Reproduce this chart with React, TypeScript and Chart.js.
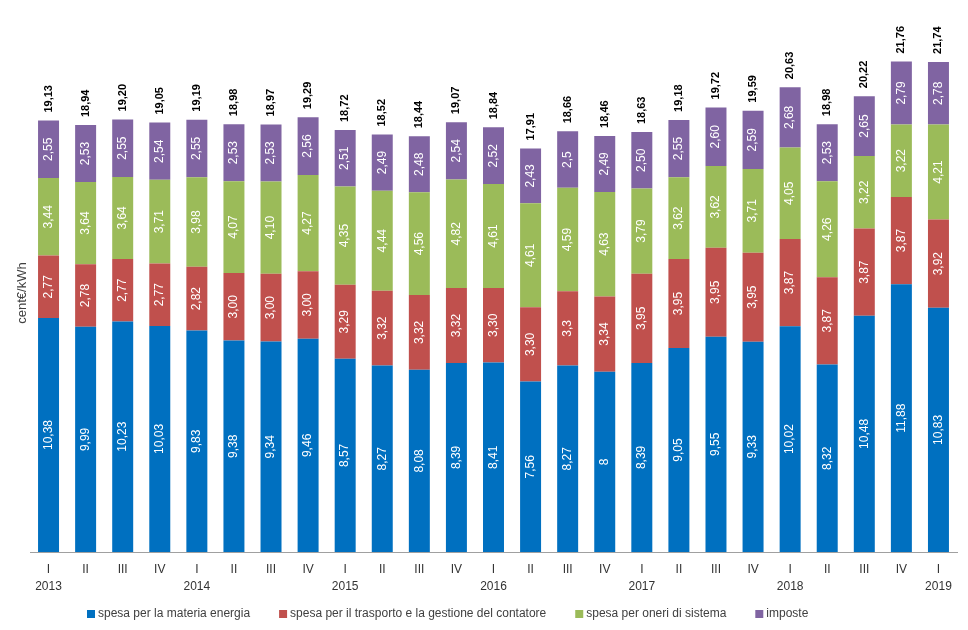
import React, { useEffect, useRef } from "react";
import { Chart, registerables } from "chart.js";

Chart.register(...registerables);

// quarters and years as printed under the x axis
const quarters = [
  "I", "II", "III", "IV", "I", "II", "III", "IV", "I", "II", "III", "IV", "I",
  "II", "III", "IV", "I", "II", "III", "IV", "I", "II", "III", "IV", "I",
];
const years = [
  "2013", "", "", "", "2014", "", "", "", "2015", "", "", "", "2016",
  "", "", "", "2017", "", "", "", "2018", "", "", "", "2019",
];

// values as written in the segments (Italian decimal comma)
const materiaEnergia = [
  "10,38", "9,99", "10,23", "10,03", "9,83", "9,38", "9,34", "9,46", "8,57",
  "8,27", "8,08", "8,39", "8,41", "7,56", "8,27", "8", "8,39", "9,05", "9,55",
  "9,33", "10,02", "8,32", "10,48", "11,88", "10,83",
];
const trasporto = [
  "2,77", "2,78", "2,77", "2,77", "2,82", "3,00", "3,00", "3,00", "3,29",
  "3,32", "3,32", "3,32", "3,30", "3,30", "3,3", "3,34", "3,95", "3,95",
  "3,95", "3,95", "3,87", "3,87", "3,87", "3,87", "3,92",
];
const oneri = [
  "3,44", "3,64", "3,64", "3,71", "3,98", "4,07", "4,10", "4,27", "4,35",
  "4,44", "4,56", "4,82", "4,61", "4,61", "4,59", "4,63", "3,79", "3,62",
  "3,62", "3,71", "4,05", "4,26", "3,22", "3,22", "4,21",
];
const imposte = [
  "2,55", "2,53", "2,55", "2,54", "2,55", "2,53", "2,53", "2,56", "2,51",
  "2,49", "2,48", "2,54", "2,52", "2,43", "2,5", "2,49", "2,50", "2,55",
  "2,60", "2,59", "2,68", "2,53", "2,65", "2,79", "2,78",
];
const totali = [
  "19,13", "18,94", "19,20", "19,05", "19,19", "18,98", "18,97", "19,29",
  "18,72", "18,52", "18,44", "19,07", "18,84", "17,91", "18,66", "18,46",
  "18,63", "19,18", "19,72", "19,59", "20,63", "18,98", "20,22", "21,76",
  "21,74",
];

const seriesNames = [
  "spesa per la materia energia",
  "spesa per il trasporto e la gestione del contatore",
  "spesa per oneri di sistema",
  "imposte",
];
const seriesColors = ["#0070C0", "#C0504D", "#9BBB59", "#8064A2"];
const seriesText = [materiaEnergia, trasporto, oneri, imposte];

const toNum = (s: string) => parseFloat(s.replace(",", "."));

const FONT = "'Liberation Sans', Arial, sans-serif";

const labelsPlugin = {
  id: "barLabels",
  afterDatasetsDraw(chart: any) {
    const ctx = chart.ctx;
    ctx.save();
    // values inside every segment
    chart.data.datasets.forEach((ds: any, di: number) => {
      const meta = chart.getDatasetMeta(di);
      meta.data.forEach((bar: any, i: number) => {
        const cy = (bar.y + bar.base) / 2;
        ctx.save();
        ctx.translate(bar.x, cy);
        ctx.rotate(-Math.PI / 2);
        ctx.font = `12px ${FONT}`;
        ctx.fillStyle = "#ffffff";
        ctx.textAlign = "center";
        ctx.textBaseline = "middle";
        ctx.fillText(seriesText[di][i], 0, 0);
        ctx.restore();
      });
    });
    // totals above the stacks
    const last = chart.getDatasetMeta(chart.data.datasets.length - 1);
    last.data.forEach((bar: any, i: number) => {
      ctx.save();
      ctx.translate(bar.x, bar.y - 8);
      ctx.rotate(-Math.PI / 2);
      ctx.font = `bold 11px ${FONT}`;
      ctx.fillStyle = "#000000";
      ctx.textAlign = "left";
      ctx.textBaseline = "middle";
      ctx.fillText(totali[i], 0, 0);
      ctx.restore();
    });
    ctx.restore();
  },
  afterDraw(chart: any) {
    const ctx = chart.ctx;
    ctx.save();
    // y axis title
    ctx.translate(22, 293);
    ctx.rotate(-Math.PI / 2);
    ctx.font = `13px ${FONT}`;
    ctx.fillStyle = "#404040";
    ctx.textAlign = "center";
    ctx.textBaseline = "middle";
    ctx.fillText("cent€/kWh", 0, 0);
    ctx.restore();

    // legend
    ctx.save();
    ctx.font = `12px ${FONT}`;
    ctx.textBaseline = "middle";
    ctx.textAlign = "left";
    let x = 87;
    const y = 614;
    chart.data.datasets.forEach((ds: any) => {
      ctx.fillStyle = ds.backgroundColor;
      ctx.fillRect(x, y - 4, 8, 8);
      x += 11;
      ctx.fillStyle = "#404040";
      ctx.fillText(ds.label, x, y);
      x += ctx.measureText(ds.label).width + 29;
    });
    ctx.restore();
  },
};

const App: React.FC = () => {
  const canvasRef = useRef<HTMLCanvasElement | null>(null);
  const chartRef = useRef<Chart | null>(null);

  useEffect(() => {
    document.body.style.margin = "0";
    if (!canvasRef.current) return;
    if (chartRef.current) chartRef.current.destroy();

    const labels = quarters.map((q, i) => (years[i] ? [q, years[i]] : [q]));

    chartRef.current = new Chart(canvasRef.current, {
      type: "bar",
      data: {
        labels,
        datasets: seriesNames.map((name, i) => ({
          label: name,
          data: seriesText[i].map(toNum),
          backgroundColor: seriesColors[i],
          borderWidth: 0,
          categoryPercentage: 1,
          barPercentage: 0.566,
        })),
      },
      options: {
        responsive: false,
        animation: false,
        devicePixelRatio: 1,
        layout: { padding: { left: 30, right: 11, top: 11, bottom: 20 } },
        plugins: {
          legend: { display: false },
          tooltip: { enabled: false },
        },
        scales: {
          x: {
            stacked: true,
            grid: { display: false, drawTicks: false },
            border: { display: true, color: "#a0a0a0", width: 1 },
            ticks: {
              autoSkip: false,
              maxRotation: 0,
              padding: 10,
              color: "#333333",
              font: { family: FONT, size: 12, lineHeight: 1.35 },
            },
            afterFit: (scale: any) => {
              scale.height = 58;
            },
          },
          y: {
            stacked: true,
            display: false,
            min: 0,
            max: 24,
          },
        },
      },
      plugins: [labelsPlugin],
    });

    return () => {
      if (chartRef.current) {
        chartRef.current.destroy();
        chartRef.current = null;
      }
    };
  }, []);

  return (
    <div style={{ width: 968, height: 630, background: "#ffffff" }}>
      <canvas ref={canvasRef} width={968} height={630} />
    </div>
  );
};

export default App;
